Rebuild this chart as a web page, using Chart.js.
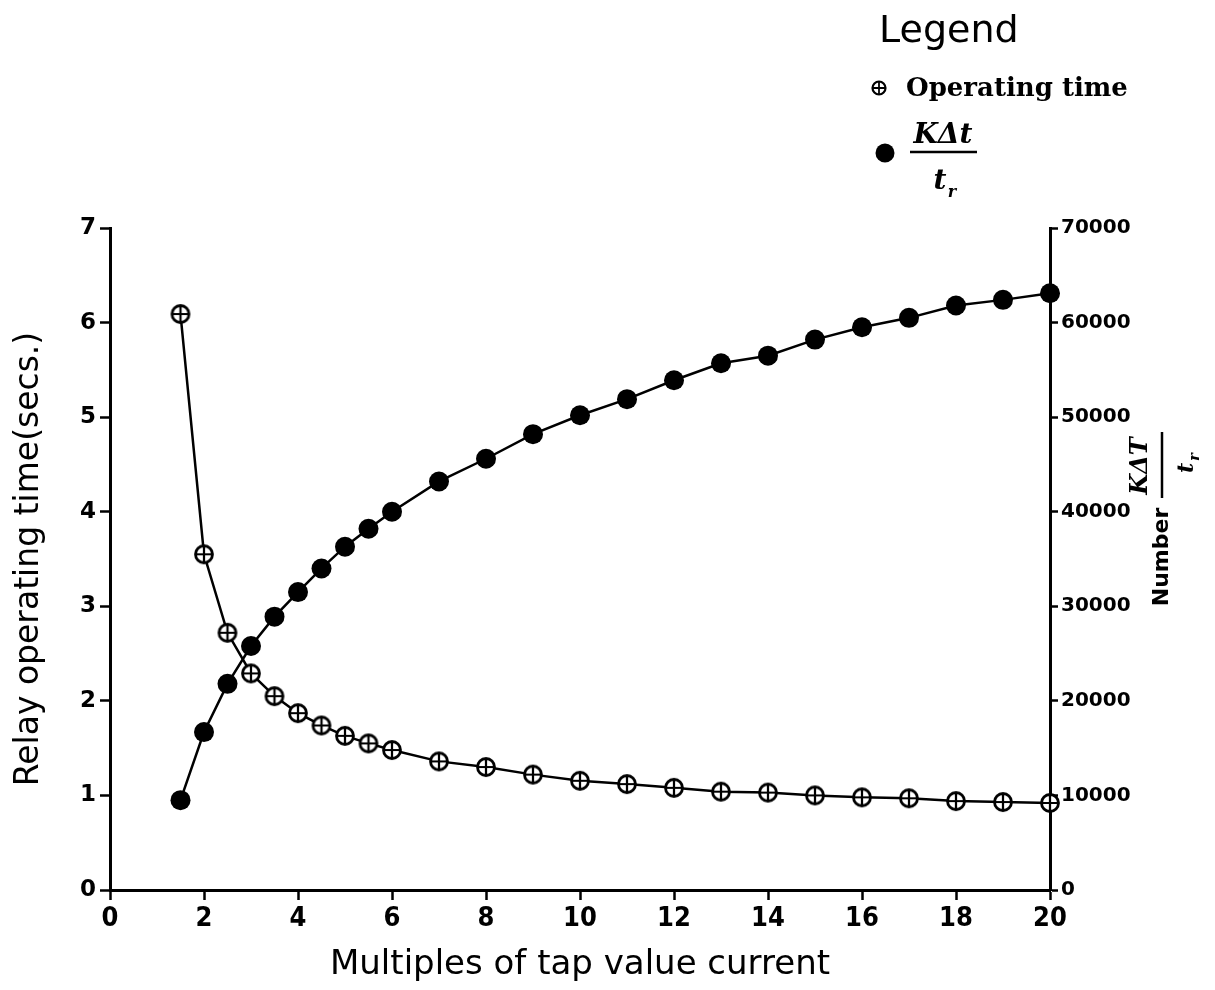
<!DOCTYPE html>
<html>
<head>
<meta charset="utf-8">
<script src="https://cdn.jsdelivr.net/npm/chart.js@4.4.1/dist/chart.umd.min.js"></script>
<style>
  html, body { margin: 0; padding: 0; background: #fff; }
  #wrap { width: 1215px; height: 990px; position: relative; }
</style>
</head>
<body>
<div id="wrap"><canvas id="relayChart"></canvas></div>
<script>
// multiples of tap value current
const multiples = [1.5, 2, 2.5, 3, 3.5, 4, 4.5, 5, 5.5, 6, 7, 8, 9, 10, 11, 12, 13, 14, 15, 16, 17, 18, 19, 20];
// relay operating time (secs.)
const operatingTime = [6.09, 3.55, 2.72, 2.29, 2.05, 1.87, 1.74, 1.63, 1.55, 1.48, 1.36, 1.30, 1.22, 1.155, 1.12, 1.08, 1.04, 1.03, 1.00, 0.98, 0.97, 0.94, 0.93, 0.92];
// K dt / t_r
const kdtNumber = [9500, 16700, 21800, 25800, 28900, 31500, 34000, 36300, 38200, 40000, 43200, 45600, 48200, 50200, 51900, 53900, 55700, 56500, 58200, 59500, 60500, 61800, 62400, 63100];

const xTicks = [0, 2, 4, 6, 8, 10, 12, 14, 16, 18, 20];
const yTicks = [0, 1, 2, 3, 4, 5, 6, 7];
const y2Ticks = [0, 10000, 20000, 30000, 40000, 50000, 60000, 70000];

const SANS = "'DejaVu Sans', sans-serif";
const NARROW = "'Liberation Sans Narrow', 'DejaVu Sans Condensed', 'Roboto Condensed', 'DejaVu Sans', sans-serif";
const SERIF = "'DejaVu Serif', 'Liberation Serif', serif";

// circle with a plus inside, for the operating time marker
function makeCrossCircle(r, lw) {
    const size = Math.ceil(2 * r + lw + 2);
    const c = document.createElement('canvas');
    c.width = size; c.height = size;
    const g = c.getContext('2d');
    const m = size / 2;
    g.fillStyle = '#fff';
    g.strokeStyle = '#000';
    g.lineWidth = lw;
    g.beginPath(); g.arc(m, m, r, 0, Math.PI * 2); g.fill(); g.stroke();
    g.lineWidth = lw * 0.8;
    g.beginPath();
    g.moveTo(m - r, m); g.lineTo(m + r, m);
    g.moveTo(m, m - r); g.lineTo(m, m + r);
    g.stroke();
    return c;
}
const crossMarker = makeCrossCircle(8.5, 2.8);

// legend and right axis title (with fraction) drawn by hand
const extraText = {
    id: 'extraText',
    afterDraw(chart) {
        const ctx = chart.ctx;
        ctx.save();
        ctx.fillStyle = '#000';
        ctx.strokeStyle = '#000';

        // legend
        ctx.textAlign = 'left';
        ctx.textBaseline = 'alphabetic';
        ctx.font = "38px " + SANS;
        ctx.fillText('Legend', 879, 42);

        const small = makeCrossCircle(6.5, 2.2);
        ctx.drawImage(small, 879 - small.width / 2, 88 - small.height / 2);
        ctx.font = "bold 26px " + SERIF;
        ctx.fillText('Operating time', 906, 96);

        ctx.beginPath(); ctx.arc(885, 153, 9.5, 0, Math.PI * 2); ctx.fill();
        ctx.textAlign = 'center';
        ctx.font = "italic bold 28px " + SERIF;
        ctx.fillText('K\u0394t', 943, 143);
        ctx.lineWidth = 2.5;
        ctx.beginPath(); ctx.moveTo(910, 152); ctx.lineTo(977, 152); ctx.stroke();
        ctx.fillText('t', 940, 189);
        ctx.font = "italic bold 16px " + SERIF;
        ctx.fillText('r', 952, 197);

        // right axis title, rotated
        function rotText(txt, sx, sy, font) {
            ctx.save();
            ctx.translate(sx, sy);
            ctx.rotate(-Math.PI / 2);
            ctx.font = font;
            ctx.textAlign = 'center';
            ctx.fillText(txt, 0, 0);
            ctx.restore();
        }
        rotText('Number', 1168, 557, "bold 22px " + SANS);
        rotText('K\u0394T', 1147, 466, "italic bold 24px " + SERIF);
        ctx.lineWidth = 2.5;
        ctx.beginPath(); ctx.moveTo(1162, 432); ctx.lineTo(1162, 498); ctx.stroke();
        rotText('t', 1193, 468, "italic bold 22px " + SERIF);
        rotText('r', 1199, 457, "italic bold 15px " + SERIF);
        ctx.restore();
    }
};

const ctx = document.getElementById('relayChart').getContext('2d');
new Chart(ctx, {
    type: 'line',
    data: {
        datasets: [
            {
                label: 'Operating time',
                data: multiples.map((m, i) => ({ x: m, y: operatingTime[i] })),
                yAxisID: 'y',
                borderColor: '#000',
                borderWidth: 2.5,
                tension: 0,
                pointStyle: crossMarker,
                clip: false
            },
            {
                label: 'K\u0394t / t_r',
                data: multiples.map((m, i) => ({ x: m, y: kdtNumber[i] })),
                yAxisID: 'y2',
                borderColor: '#000',
                borderWidth: 2.5,
                tension: 0,
                pointStyle: 'circle',
                pointRadius: 10,
                pointBackgroundColor: '#000',
                pointBorderColor: '#000',
                pointBorderWidth: 0,
                clip: false
            }
        ]
    },
    options: {
        responsive: true,
        maintainAspectRatio: false,
        animation: false,
        layout: { padding: { top: 228, left: 10, right: 0, bottom: 0 } },
        plugins: {
            legend: { display: false },
            tooltip: { enabled: false }
        },
        scales: {
            x: {
                type: 'linear',
                min: 0, max: 20,
                afterFit: s => { s.height = 100; },
                afterBuildTicks: s => { s.ticks = xTicks.map(v => ({ value: v })); },
                ticks: { color: '#000', padding: 3, font: { family: NARROW, size: 27, weight: 'bold' } },
                grid: { drawOnChartArea: false, tickLength: 10, tickWidth: 2.5, tickColor: '#000' },
                border: { color: '#000', width: 3 },
                title: {
                    display: true,
                    text: 'Multiples of tap value current',
                    color: '#000',
                    font: { family: SANS, size: 34 },
                    padding: { top: 0, bottom: 4 }
                }
            },
            y: {
                position: 'left',
                min: 0, max: 7,
                afterFit: s => { s.width = 100; },
                afterBuildTicks: s => { s.ticks = yTicks.map(v => ({ value: v })); },
                ticks: { color: '#000', padding: 4, font: { family: SANS, size: 23, weight: 'bold' } },
                grid: { drawOnChartArea: false, tickLength: 10, tickWidth: 2.5, tickColor: '#000' },
                border: { color: '#000', width: 3 },
                title: {
                    display: true,
                    text: 'Relay operating time(secs.)',
                    color: '#000',
                    font: { family: SANS, size: 33 },
                    padding: { top: 0, bottom: 0 }
                }
            },
            y2: {
                position: 'right',
                min: 0, max: 70000,
                afterFit: s => { s.width = 165; },
                afterBuildTicks: s => { s.ticks = y2Ticks.map(v => ({ value: v })); },
                ticks: {
                    color: '#000', padding: 3,
                    font: { family: SANS, size: 20, weight: 'bold' },
                    callback: v => String(v)
                },
                grid: { drawOnChartArea: false, tickLength: 8, tickWidth: 2.5, tickColor: '#000' },
                border: { color: '#000', width: 3 }
            }
        }
    },
    plugins: [extraText]
});
</script>
</body>
</html>
